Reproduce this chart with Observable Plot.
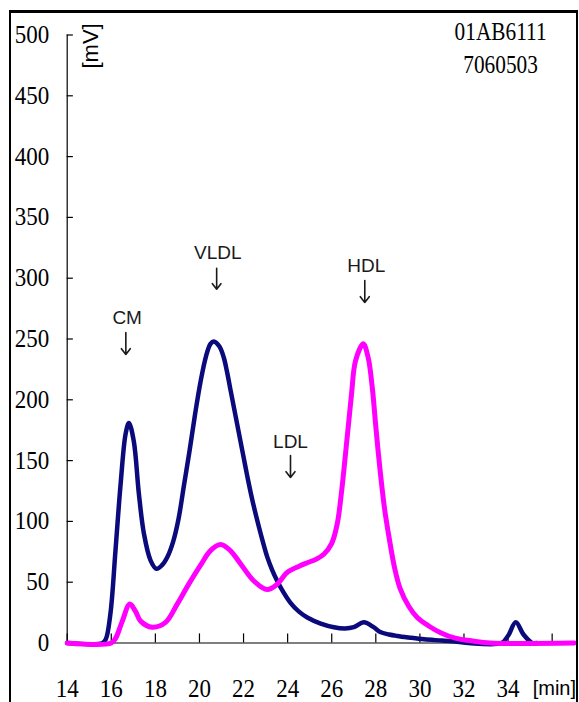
<!DOCTYPE html>
<html>
<head>
<meta charset="utf-8">
<script src="https://cdn.jsdelivr.net/npm/d3@7"></script>
<script src="https://cdn.jsdelivr.net/npm/@observablehq/plot@0.6"></script>
<style>
  html, body { margin: 0; padding: 0; background: #fff; overflow: hidden; }
  #wrap { position: relative; width: 579px; height: 702px; }
  #frame { position: absolute; left: 9px; top: 10px; width: 565px; height: 720px;
           border: 2px solid #000; border-top-width: 3px; border-bottom: none; pointer-events: none; }
</style>
</head>
<body>
<div id="wrap"><div id="frame"></div></div>
<script>
// Retention time (min) and detector signal (mV)
const navyT = [14, 15.6, 15.75, 15.96, 16.19, 16.42, 16.65, 16.8, 17.02, 17.25, 17.48, 17.78, 18.05, 18.3, 18.55, 18.8, 19.05, 19.3, 19.55, 19.8, 20.05, 20.3, 20.5, 20.65, 20.9, 21.1, 21.25, 21.41, 21.56, 21.71, 21.86, 22.01, 22.16, 22.32, 22.47, 22.62, 22.85, 23.07, 23.3, 23.53, 23.8, 24.13, 24.5, 24.89, 25.5, 26.1, 26.6, 27.0, 27.46, 27.9, 28.2, 28.6, 28.97, 29.5, 30.2, 31.0, 31.7, 32.2, 33.7, 34.0, 34.35, 34.7, 35.1, 35.3];
const navyV = [0, 0, 3, 24, 76, 130, 172, 181, 166, 123, 90, 68, 61, 64, 71, 83, 102, 130, 158, 188, 215, 236, 246, 248, 244, 235, 223, 208, 194, 180, 166, 152, 138, 124, 112, 101, 85, 71, 60, 51, 42, 33, 26, 21, 16, 13, 12, 13, 17, 13, 9, 7, 5.8, 4.5, 3, 2, 1, 0, 0, 6, 17, 7, 0, 0];

const magT = [14, 16.0, 16.2, 16.5, 16.84, 17.1, 17.33, 17.86, 18.46, 18.99, 19.5, 20.05, 20.5, 20.96, 21.4, 21.87, 22.47, 23.07, 23.5, 23.98, 24.5, 24.89, 25.3, 25.64, 26.0, 26.25, 26.45, 26.7, 26.9, 27.08, 27.43, 27.65, 27.84, 28.0, 28.2, 28.4, 28.6, 28.85, 29.1, 29.5, 29.88, 30.4, 30.94, 31.6, 32.4, 33.2, 37];
const magV = [0, 0, 4, 18, 32, 26, 18, 13, 17, 32, 48, 64, 76, 81, 76, 65, 51, 44, 48, 58, 63, 66, 69, 73, 82, 98, 125, 169, 205, 232, 246, 235, 210, 178, 141, 110, 87, 62, 45, 30, 21, 14, 8.5, 4, 1.6, 0, 0];

const xTicks = [14, 16, 18, 20, 22, 24, 26, 28, 30, 32, 34, 36];
const xLabels = [14, 16, 18, 20, 22, 24, 26, 28, 30, 32, 34];
const yTicks = [0, 50, 100, 150, 200, 250, 300, 350, 400, 450, 500];

const peakNames = ["CM", "VLDL", "LDL", "HDL"];
const peakTextT = [16.72, 20.83, 24.13, 27.57];
const peakTextV = [267.7, 321, 165.3, 310];
const arrowT = [16.66, 20.78, 24.13, 27.5];
const arrowTopV = [255.3, 308.2, 154.2, 298.1];
const arrowBottomV = [237.3, 290.9, 136.1, 280];

const headerLines = ["01AB6111", "7060503"];
const headerT = [33.66, 33.66];
const headerV = [503, 475.7];

const navy = navyT.map((t, i) => ({t, v: navyV[i]}));
const mag = magT.map((t, i) => ({t, v: magV[i]}));
const peaks = peakNames.map((name, i) => ({name, t: peakTextT[i], tv: peakTextV[i], at: arrowT[i], a1: arrowTopV[i], a2: arrowBottomV[i]}));
const header = headerLines.map((s, i) => ({s, t: headerT[i], v: headerV[i]}));

const serif = "'Liberation Serif', 'Times New Roman', serif";
const sans = "'Liberation Sans', Arial, sans-serif";

const chart = Plot.plot({
  width: 579,
  height: 702,
  marginLeft: 66.7,
  marginRight: 5.3,
  marginTop: 34.5,
  marginBottom: 59.5,
  x: {domain: [14, 37]},
  y: {domain: [0, 500]},
  style: {background: "transparent", overflow: "visible"},
  marks: [
    Plot.ruleX([14], {y1: 0, y2: 500, stroke: "#000", strokeWidth: 1.2}),
    Plot.ruleY([0], {stroke: "#000", strokeWidth: 1.2}),
    // inward tick marks (about 6-8 px long)
    Plot.ruleY(yTicks, {y: d => d, x1: 14, x2: 14.28, stroke: "#000", strokeWidth: 1.2}),
    Plot.ruleX(xTicks, {x: d => d, y1: 0, y2: 7.5, stroke: "#000", strokeWidth: 1.2}),
    Plot.axisY(yTicks, {tickSize: 0, tickPadding: 18, fontSize: 25, fontFamily: serif, fill: "#000", textAnchor: "end", className: "sq"}),
    Plot.axisX(xLabels, {tickSize: 0, tickPadding: 36, fontSize: 25, fontFamily: serif, fill: "#000", className: "sq"}),
    Plot.line(navy, {x: "t", y: "v", stroke: "#0a0a7c", strokeWidth: 4.5, curve: "catmull-rom"}),
    Plot.line(mag, {x: "t", y: "v", stroke: "#ff00ff", strokeWidth: 5, curve: "catmull-rom"}),
    Plot.text(peaks, {x: "t", y: "tv", text: "name", fontSize: 19, fontFamily: sans, fill: "#1a1a1a"}),
    Plot.arrow(peaks, {x1: "at", y1: "a1", x2: "at", y2: "a2", stroke: "#1a1a1a", strokeWidth: 1.6, headLength: 8, headAngle: 75}),
    Plot.text(header, {x: "t", y: "v", text: "s", fontSize: 26, fontFamily: serif, fill: "#000", className: "hd"}),
    Plot.text(["[mV]"], {x: 15.06, y: 491, text: d => d, rotate: -90, fontSize: 22, fontFamily: sans, fill: "#000"}),
    Plot.text(["[min]"], {x: 36.1, y: -37.4, text: d => d, fontSize: 20, fontFamily: sans, fill: "#000"})
  ]
});

// Condense serif glyphs horizontally, like the reference typeface
function squeeze(sel, s) {
  chart.querySelectorAll(sel).forEach(t => {
    const tr = t.getAttribute("transform") || "";
    const x = t.getAttribute("x"), y = t.getAttribute("y");
    if (x != null || y != null) {
      const xx = +x || 0, yy = +y || 0;
      t.setAttribute("transform", `${tr} translate(${xx},${yy}) scale(${s},1) translate(${-xx},${-yy})`);
    } else {
      t.setAttribute("transform", `${tr} scale(${s},1)`);
    }
  });
}
squeeze(".sq text", 0.92);
squeeze(".hd text", 0.82);

document.getElementById("wrap").prepend(chart);
</script>
</body>
</html>
